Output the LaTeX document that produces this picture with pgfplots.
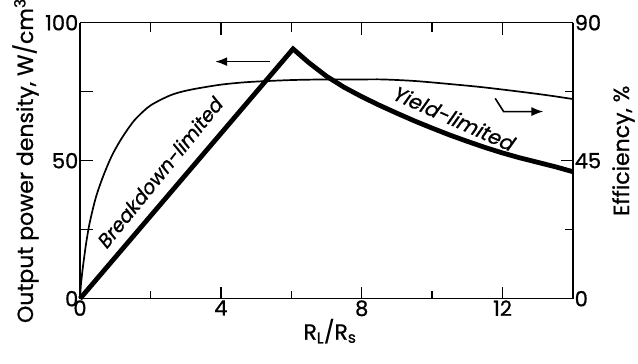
\documentclass[border=0pt]{standalone}
\usepackage{fontspec}
\setmainfont{Poppins}[FakeBold=0.8]
\newfontfamily\slfont{Poppins}[FakeSlant=0.2,FakeBold=0.8]
\usepackage{pgfplots}
\usetikzlibrary{arrows.meta}
\pgfplotsset{compat=1.18}
\begin{document}
\begin{tikzpicture}
\pgfplotsset{
  every axis/.append style={
    scale only axis, width=493pt, height=276pt,
    xmin=0, xmax=14,
    axis line style={line width=1.6pt},
    tick style={line width=1.3pt, black},
    tick align=inside,
    major tick length=12pt, minor tick length=8pt,
    tick label style={font=\fontsize{21}{24}\selectfont, inner sep=1.5pt},
    label style={font=\fontsize{22}{26}\selectfont},
    /pgf/number format/assume math mode=true,
    clip=false,
  }
}
\begin{axis}[
  ymin=0, ymax=90,
  axis x line=none, axis y line*=right,
  ytick={0,45,90}, minor ytick={22.5,67.5},
  ylabel={Efficiency, \%},
  ylabel style={at={([xshift=56pt]axis description cs:1,0.536)}, anchor=base, rotate=0},
]
\addplot[black, line width=1.7pt, smooth] coordinates {
(0,0) (0.03,5) (0.09,11) (0.18,18.5) (0.28,25) (0.45,33) (0.66,40) (0.9,46.5)
(1.14,51.5) (1.4,56) (1.61,59) (2,63) (2.56,66.3) (3,67.8) (3.5,68.9) (4,69.8)
(4.5,70.4) (5,70.8) (6,71.3) (7,71.5) (8,71.5) (8.6,71.5) (9.5,71) (10.5,70)
(11.4,69) (12.5,67.5) (13.3,66.3) (14,65.1)};
% tick marks of the left and the two x axes (drawn in this axis' units)
\draw[line width=1.3pt, black] (axis cs:4,0) -- (axis cs:4,3.9);
\draw[line width=1.3pt, black] (axis cs:8,0) -- (axis cs:8,3.9);
\draw[line width=1.3pt, black] (axis cs:12,0) -- (axis cs:12,3.9);
\draw[line width=1.3pt, black] (axis cs:2,0) -- (axis cs:2,2.6);
\draw[line width=1.3pt, black] (axis cs:6,0) -- (axis cs:6,2.6);
\draw[line width=1.3pt, black] (axis cs:10,0) -- (axis cs:10,2.6);
\draw[line width=1.3pt, black] (axis cs:2,90) -- (axis cs:2,87);
\draw[line width=1.3pt, black] (axis cs:4,90) -- (axis cs:4,87);
\draw[line width=1.3pt, black] (axis cs:6,90) -- (axis cs:6,87);
\draw[line width=1.3pt, black] (axis cs:8,90) -- (axis cs:8,87);
\draw[line width=1.3pt, black] (axis cs:10,90) -- (axis cs:10,87);
\draw[line width=1.3pt, black] (axis cs:12,90) -- (axis cs:12,87);
\draw[line width=1.3pt, black] (axis cs:0,22.5) -- (axis cs:0.37,22.5);
\draw[line width=1.3pt, black] (axis cs:0,45) -- (axis cs:0.37,45);
\draw[line width=1.3pt, black] (axis cs:0,67.5) -- (axis cs:0.37,67.5);
\end{axis}
\begin{axis}[
  name=main,
  ymin=0, ymax=100,
  axis x line*=box, axis y line*=left,
  xtick={0,4,8,12}, minor xtick={2,6,10,14},
  ytick={0,50,100}, minor ytick={25,75},
  xlabel={R\textsubscript{L}/R\textsubscript{s}},
  ylabel={Output power density, W/cm\textsuperscript{3}},
  xlabel style={at={([yshift=-41pt]axis description cs:0.507,0)}, anchor=base},
  ylabel style={at={([xshift=-47pt]axis description cs:0,0.5)}, anchor=base, rotate=0},
]
\addplot[black, line width=4.8pt, line join=miter, miter limit=20] coordinates {
(0,0) (6.05,90.5) (6.5,85.5) (7,80.6) (7.5,76.6) (8,73.2) (8.5,70.1) (9,67.2)
(9.5,64.4) (10,61.8) (10.5,59.3) (11,57.0) (11.5,54.8) (12,52.8) (12.5,51.0)
(13,49.4) (13.5,47.8) (14,46.0)};
\node[font=\fontsize{19.5}{22}\slfont, rotate=51] at (axis cs:2.25,45.5) {Breakdown-limited};
\node[font=\fontsize{20.5}{22}\slfont, rotate=-24] at (axis cs:10.6,65.5) {Yield-limited};
\draw[line width=1.6pt, -{Latex[length=12pt,width=9pt]}] (axis cs:5.4,85.9) -- (axis cs:3.84,85.9);
\draw[line width=1.6pt, -{Latex[length=12pt,width=9pt]}] (axis cs:11.79,72.6) -- (axis cs:12.03,67.8) -- (axis cs:13.16,67.8);
\end{axis}
\pgfresetboundingbox
\path[use as bounding box] ([shift={(-80pt,-65pt)}]main.south west) rectangle ([shift={(65pt,22.7pt)}]main.north east);
\end{tikzpicture}
\end{document}
